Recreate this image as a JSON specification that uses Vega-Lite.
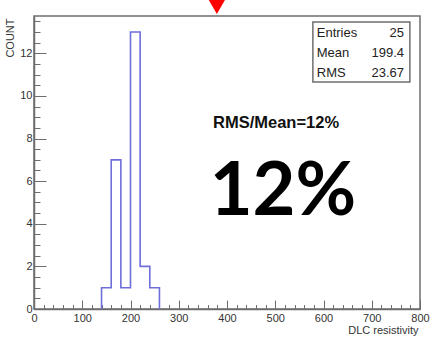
{
  "$schema": "https://vega.github.io/schema/vega-lite/v6.json",
  "width": 386,
  "height": 293,
  "autosize": {"type": "none"},
  "padding": {"left": 34, "top": 16, "right": 17, "bottom": 38},
  "background": "white",
  "config": {
    "view": {"stroke": "#6e6e6e", "strokeWidth": 1.5},
    "font": "Liberation Sans",
    "axis": {"labelOverlap": false, "labelFlush": false, "grid": false}
  },
  "resolve": {"axis": {"x": "independent", "y": "independent"}},
  "datasets": {
    "hist": [
      {"edge": 140, "count": 0},
      {"edge": 140, "count": 1},
      {"edge": 160, "count": 7},
      {"edge": 180, "count": 1},
      {"edge": 200, "count": 13},
      {"edge": 220, "count": 2},
      {"edge": 240, "count": 1},
      {"edge": 260, "count": 0}
    ],
    "one": [{}]
  },
  "layer": [
    {
      "data": {"name": "hist"},
      "mark": {"type": "line", "interpolate": "step-after", "color": "#6f6fdc", "strokeWidth": 1.6},
      "encoding": {
        "x": {
          "field": "edge",
          "type": "quantitative",
          "scale": {"domain": [0, 800], "nice": false, "zero": false},
          "axis": {
            "orient": "bottom",
            "values": [0,100,200,300,400,500,600,700,800],
            "tickSize": -9,
            "domainColor": "#6e6e6e",
            "domainWidth": 1.5,
            "tickColor": "#6e6e6e",
            "tickWidth": 1,
            "labelFontSize": 11,
            "labelColor": "#333333",
            "labelPadding": 12,
            "title": "DLC resistivity",
            "titleAnchor": "end",
            "titleAlign": "right",
            "titleX": 384,
            "titleY": 24,
            "titleBaseline": "alphabetic",
            "titleFontWeight": "normal",
            "titleFontSize": 11,
            "titleColor": "#333333"
          }
        },
        "y": {
          "field": "count",
          "type": "quantitative",
          "scale": {"domain": [0, 13.75], "nice": false},
          "axis": {
            "orient": "left",
            "values": [0,2,4,6,8,10,12],
            "tickSize": -12,
            "domainColor": "#6e6e6e",
            "domainWidth": 1.5,
            "tickColor": "#6e6e6e",
            "tickWidth": 1,
            "labelFontSize": 11,
            "labelColor": "#333333",
            "labelPadding": 14,
            "title": "COUNT",
            "titleAnchor": "end",
            "titleAlign": "right",
            "titleAngle": -90,
            "titleBaseline": "middle",
            "titleX": -24,
            "titleY": 2,
            "titleFontWeight": "normal",
            "titleFontSize": 11,
            "titleColor": "#333333"
          }
        },
        "order": {"value": null}
      }
    },
    {
      "data": {"name": "one"},
      "mark": {"type": "rect", "fill": "white", "stroke": "#6e6e6e", "strokeWidth": 1.5},
      "encoding": {
        "x": {
          "datum": 578,
          "axis": {
            "orient": "bottom",
            "values": [20,40,60,80,120,140,160,180,220,240,260,280,320,340,360,380,420,440,460,480,520,540,560,580,620,640,660,680,720,740,760,780],
            "tickSize": -4.5,
            "tickColor": "#6e6e6e",
            "tickWidth": 1,
            "labels": false,
            "domain": false,
            "title": null
          }
        },
        "x2": {"datum": 779},
        "y": {
          "datum": 13.47,
          "axis": {
            "orient": "left",
            "values": [0.5,1,1.5,2.5,3,3.5,4.5,5,5.5,6.5,7,7.5,8.5,9,9.5,10.5,11,11.5,12.5,13,13.5],
            "tickSize": -6,
            "tickColor": "#6e6e6e",
            "tickWidth": 1,
            "labels": false,
            "domain": false,
            "title": null
          }
        },
        "y2": {"datum": 10.65}
      }
    },
    {
      "data": {"name": "one"},
      "mark": {"type": "text", "text": "Entries", "align": "left", "baseline": "alphabetic", "fontSize": 13, "color": "#222222"},
      "encoding": {"x": {"datum": 586, "axis": null}, "y": {"datum": 12.76, "axis": null}}
    },
    {
      "data": {"name": "one"},
      "mark": {"type": "text", "text": "25", "align": "right", "baseline": "alphabetic", "fontSize": 13, "color": "#222222"},
      "encoding": {"x": {"datum": 767, "axis": null}, "y": {"datum": 12.76, "axis": null}}
    },
    {
      "data": {"name": "one"},
      "mark": {"type": "text", "text": "Mean", "align": "left", "baseline": "alphabetic", "fontSize": 13, "color": "#222222"},
      "encoding": {"x": {"datum": 586, "axis": null}, "y": {"datum": 11.83, "axis": null}}
    },
    {
      "data": {"name": "one"},
      "mark": {"type": "text", "text": "199.4", "align": "right", "baseline": "alphabetic", "fontSize": 13, "color": "#222222"},
      "encoding": {"x": {"datum": 767, "axis": null}, "y": {"datum": 11.83, "axis": null}}
    },
    {
      "data": {"name": "one"},
      "mark": {"type": "text", "text": "RMS", "align": "left", "baseline": "alphabetic", "fontSize": 13, "color": "#222222"},
      "encoding": {"x": {"datum": 586, "axis": null}, "y": {"datum": 10.89, "axis": null}}
    },
    {
      "data": {"name": "one"},
      "mark": {"type": "text", "text": "23.67", "align": "right", "baseline": "alphabetic", "fontSize": 13, "color": "#222222"},
      "encoding": {"x": {"datum": 767, "axis": null}, "y": {"datum": 10.89, "axis": null}}
    },
    {
      "data": {"name": "one"},
      "mark": {"type": "text", "text": "RMS/Mean=12%", "align": "left", "baseline": "alphabetic", "fontSize": 16.5, "fontWeight": "bold", "color": "#111111"},
      "encoding": {"x": {"datum": 371, "axis": null}, "y": {"datum": 8.49, "axis": null}}
    },
    {
      "data": {"name": "one"},
      "mark": {"type": "text", "text": "12%", "align": "left", "baseline": "alphabetic", "font": "Lato", "fontSize": 74, "fontWeight": "bold", "color": "#000000"},
      "encoding": {"x": {"datum": 364, "axis": null}, "y": {"datum": 4.41, "axis": null}}
    },
    {
      "data": {"name": "one"},
      "mark": {"type": "point", "shape": "triangle-down", "filled": true, "color": "#ff0000", "size": 484, "opacity": 1},
      "encoding": {"x": {"datum": 379, "axis": null}, "y": {"datum": 14.29, "axis": null}}
    }
  ]
}
